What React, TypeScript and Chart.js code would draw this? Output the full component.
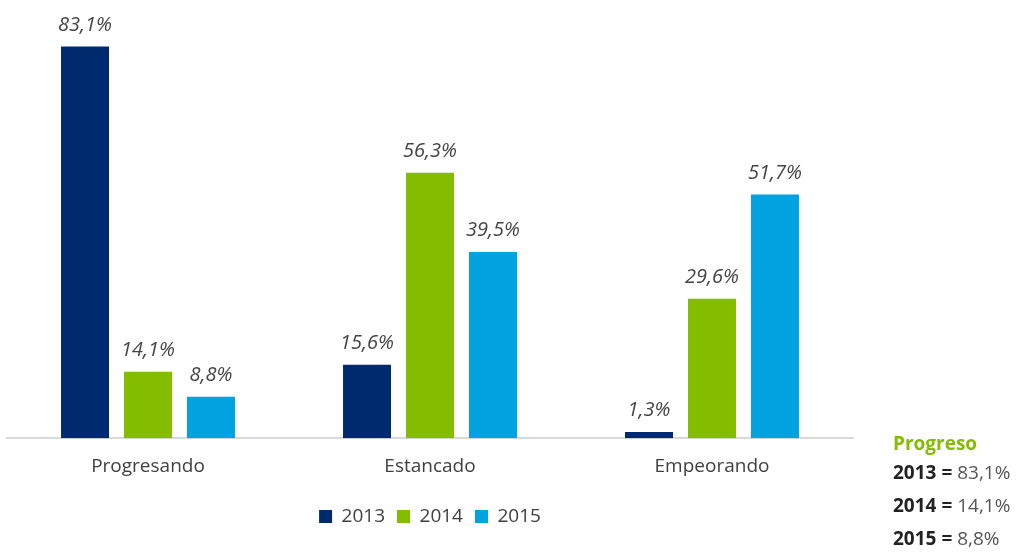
import React, { useEffect, useRef } from "react";
import { Chart, registerables } from "chart.js";

Chart.register(...registerables);

const categories = ["Progresando", "Estancado", "Empeorando"];
const seriesLabels = ["2013", "2014", "2015"];
const values2013 = [83.1, 15.6, 1.3];
const values2014 = [14.1, 56.3, 29.6];
const values2015 = [8.8, 39.5, 51.7];
const colors = ["#002a6e", "#84bd00", "#00a2e0"];
const progresoLabels = ["2013", "2014", "2015"];
const progresoValues = ["83,1%", "14,1%", "8,8%"];

const FONT = "'Open Sans', 'Noto Sans', sans-serif";

const fmt = (v: number) => v.toFixed(1).replace(".", ",") + "%";

const valueLabels = {
  id: "valueLabels",
  afterDatasetsDraw(chart: any) {
    const ctx = chart.ctx;
    ctx.save();
    ctx.font = `italic 20px ${FONT}`;
    ctx.fillStyle = "#444444";
    ctx.textAlign = "center";
    ctx.textBaseline = "alphabetic";
    chart.data.datasets.forEach((ds: any, i: number) => {
      const meta = chart.getDatasetMeta(i);
      meta.data.forEach((bar: any, j: number) => {
        ctx.fillText(fmt(ds.data[j]), bar.x, bar.y - 16);
      });
    });
    ctx.restore();
  },
};

export default function App() {
  const ref = useRef<HTMLCanvasElement>(null);
  useEffect(() => {
    const chart = new Chart(ref.current!, {
      type: "bar",
      data: {
        labels: categories,
        datasets: [values2013, values2014, values2015].map((d, i) => ({
          label: seriesLabels[i],
          data: d,
          backgroundColor: colors[i],
          barPercentage: 0.762,
          categoryPercentage: 0.67,
        })),
      },
      options: {
        animation: false,
        responsive: false,
        maintainAspectRatio: false,
        layout: { padding: { left: 7, right: 168, top: 14, bottom: 18 } },
        plugins: {
          tooltip: { enabled: false },
          legend: {
            position: "bottom",
            labels: {
              font: { family: FONT, size: 19 },
              color: "#404040",
              boxWidth: 13,
              boxHeight: 13,
              padding: 12,
            },
          },
        },
        scales: {
          x: {
            grid: { display: false, drawTicks: false },
            border: { display: true, color: "#d9d9d9", width: 2 },
            ticks: {
              font: { family: FONT, size: 19 },
              color: "#404040",
              padding: 17,
            },
          },
          y: {
            display: false,
            min: 0,
            max: 90,
          },
        },
      },
      plugins: [valueLabels],
    });
    return () => chart.destroy();
  }, []);

  return (
    <div style={{ position: "absolute", left: 0, top: 0, width: 1021, height: 554 }}>
      <canvas ref={ref} width={1021} height={554} style={{ display: "block" }} />
      <div
        style={{
          position: "absolute",
          left: 893,
          top: 430,
          fontFamily: FONT,
          fontSize: 19,
          lineHeight: "33px",
        }}
      >
        <div style={{ color: "#84bd00", fontWeight: 700, lineHeight: "26px" }}>Progreso</div>
        {progresoLabels.map((l, i) => (
          <div key={l} style={{ whiteSpace: "nowrap" }}>
            <span style={{ fontWeight: 700, color: "#222222" }}>{l} =</span>{" "}
            <span style={{ color: "#555555" }}>{progresoValues[i]}</span>
          </div>
        ))}
      </div>
    </div>
  );
}
